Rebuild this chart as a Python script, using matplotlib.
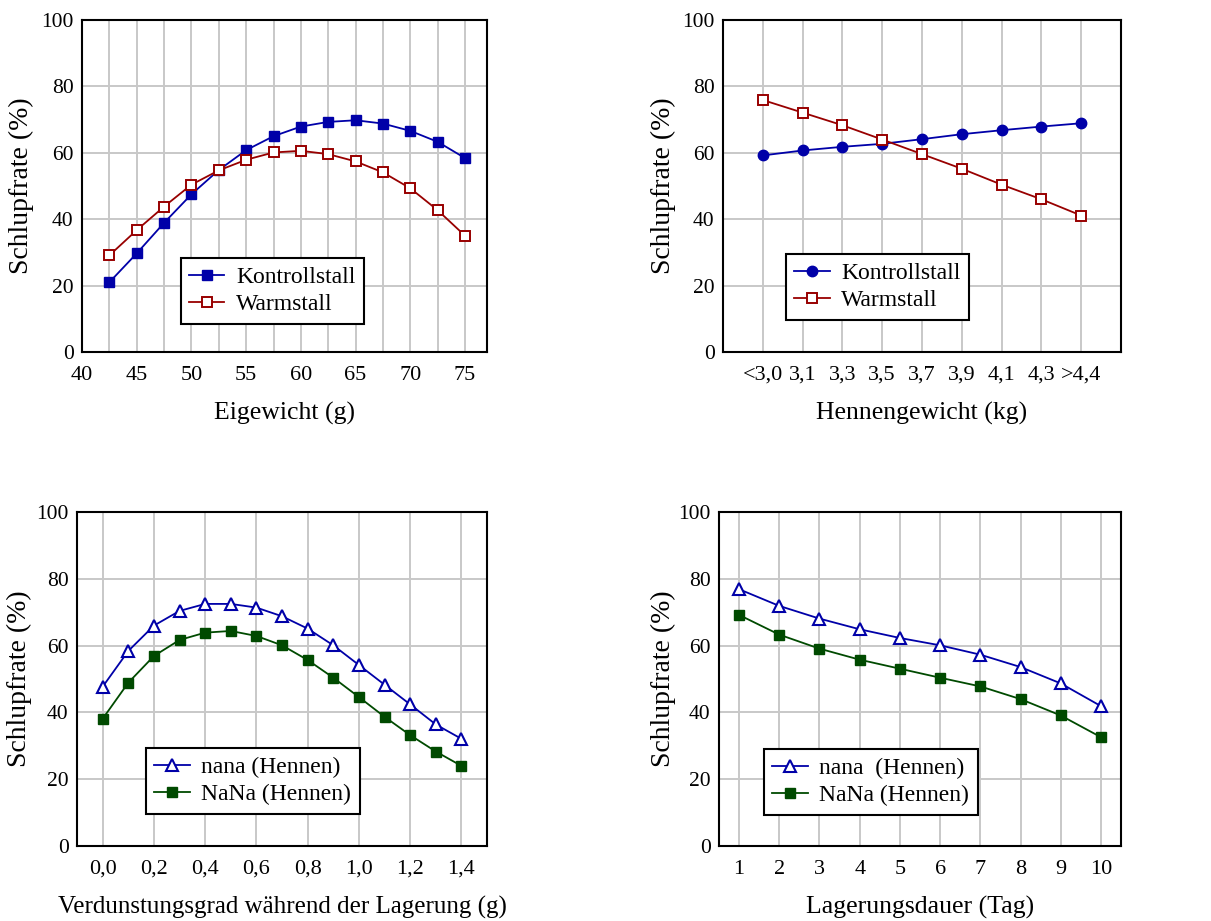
import matplotlib
matplotlib.use("Agg")
import matplotlib.pyplot as plt
from matplotlib.ticker import MultipleLocator

plt.rcParams['font.family'] = ['Liberation Serif', 'DejaVu Serif']

# Eigewicht
egg_weight = [42.5, 45, 47.5, 50, 52.5, 55, 57.5, 60, 62.5, 65, 67.5, 70, 72.5, 75]
egg_kontroll = [21.0, 29.7, 38.9, 47.5, 54.8, 60.8, 65.0, 67.9, 69.3, 69.8, 68.8, 66.6, 63.3, 58.4]
egg_warm = [29.1, 36.7, 43.8, 50.4, 54.7, 57.9, 60.1, 60.6, 59.6, 57.4, 54.1, 49.3, 42.7, 35.0]

# Hennengewicht
hen_labels = ['<3,0', '3,1', '3,3', '3,5', '3,7', '3,9', '4,1', '4,3', '>4,4']
hen_kontroll = [59.2, 60.7, 61.8, 62.7, 64.1, 65.6, 66.8, 67.9, 68.9]
hen_warm = [75.9, 72.1, 68.3, 64.0, 59.6, 55.2, 50.4, 46.0, 41.1]

# Verdunstung
evap = [0.0, 0.1, 0.2, 0.3, 0.4, 0.5, 0.6, 0.7, 0.8, 0.9, 1.0, 1.1, 1.2, 1.3, 1.4]
evap_nana = [47.7, 58.4, 66.0, 70.4, 72.5, 72.5, 71.4, 68.8, 65.1, 60.1, 54.2, 48.3, 42.4, 36.4, 32.1]
evap_NaNa = [38.1, 48.9, 56.9, 61.7, 63.9, 64.4, 62.9, 60.1, 55.7, 50.4, 44.6, 38.7, 33.2, 28.3, 24.0]

# Lagerungsdauer
days = [1, 2, 3, 4, 5, 6, 7, 8, 9, 10]
days_nana = [76.9, 71.9, 68.1, 64.9, 62.3, 60.1, 57.3, 53.6, 48.7, 41.9]
days_NaNa = [69.2, 63.3, 59.1, 55.8, 53.1, 50.4, 47.8, 44.0, 39.1, 32.6]

BLUE = '#0000a8'
RED = '#980000'
GREEN = '#004a00'

fig = plt.figure(figsize=(12.11, 9.21), dpi=100)
ax1 = fig.add_axes([0.0677, 0.6178, 0.3344, 0.3605])
ax2 = fig.add_axes([0.5970, 0.6178, 0.3287, 0.3605])
ax3 = fig.add_axes([0.0636, 0.0814, 0.3386, 0.3626])
ax4 = fig.add_axes([0.5937, 0.0814, 0.3320, 0.3626])


def style(ax, ylab_x):
    ax.set_ylim(0, 100)
    ax.yaxis.set_major_locator(MultipleLocator(20))
    ax.grid(True, which='both', color='#c8c8c8', lw=1.4)
    ax.set_axisbelow(True)
    ax.tick_params(which='both', length=0)
    ax.tick_params(axis='x', labelsize=16, pad=10)
    ax.tick_params(axis='y', labelsize=15.5, pad=6)
    for s in ax.spines.values():
        s.set_linewidth(1.5)
        s.set_color('black')
    ax.set_ylabel('Schlupfrate (%)', fontsize=20)
    # label anchor is the right edge of the rotated text
    ax.yaxis.set_label_coords(ylab_x, 0.5)


def legend(ax, x, y):
    leg = ax.legend(loc='upper left', bbox_to_anchor=(x, y), fontsize=17,
                    fancybox=False, framealpha=1, edgecolor='black',
                    handlelength=1.5, handletextpad=0.5, borderpad=0.35,
                    labelspacing=0.25, borderaxespad=0)
    leg.get_frame().set_linewidth(1.5)


# Eigewicht
ax1.plot(egg_weight, egg_kontroll, color=BLUE, lw=1.3, marker='s', ms=7,
         mfc=BLUE, mec=BLUE, label='Kontrollstall')
ax1.plot(egg_weight, egg_warm, color=RED, lw=1.3, marker='s', ms=7,
         mfc='white', mec=RED, mew=1.4, label='Warmstall')
ax1.set_xlim(40, 77)
ax1.xaxis.set_major_locator(MultipleLocator(5))
ax1.xaxis.set_minor_locator(MultipleLocator(2.5))
style(ax1, -0.118)
ax1.set_xlabel('Eigewicht (g)', fontsize=18.5, labelpad=12)
legend(ax1, 0.244, 0.283)

# Hennengewicht
xh = range(len(hen_labels))
ax2.plot(xh, hen_kontroll, color=BLUE, lw=1.3, marker='o', ms=7.5,
         mfc=BLUE, mec=BLUE, label='Kontrollstall')
ax2.plot(xh, hen_warm, color=RED, lw=1.3, marker='s', ms=7,
         mfc='white', mec=RED, mew=1.4, label='Warmstall')
ax2.set_xlim(-1, 9)
ax2.set_xticks(list(xh))
ax2.set_xticklabels(hen_labels)
style(ax2, -0.118)
ax2.set_xlabel('Hennengewicht (kg)', fontsize=18.5, labelpad=12)
legend(ax2, 0.158, 0.295)

# Verdunstung
ax3.plot(evap, evap_nana, color=BLUE, lw=1.3, marker='^', ms=8,
         mfc='white', mec=BLUE, mew=1.5, label='nana (Hennen)')
ax3.plot(evap, evap_NaNa, color=GREEN, lw=1.3, marker='s', ms=7,
         mfc=GREEN, mec=GREEN, label='NaNa (Hennen)')
ax3.set_xlim(-0.1, 1.5)
ax3.set_xticks([0.0, 0.2, 0.4, 0.6, 0.8, 1.0, 1.2, 1.4])
ax3.set_xticklabels(['0,0', '0,2', '0,4', '0,6', '0,8', '1,0', '1,2', '1,4'])
style(ax3, -0.110)
ax3.set_xlabel('Verdunstungsgrad während der Lagerung (g)', fontsize=18, labelpad=12)
legend(ax3, 0.168, 0.293)

# Lagerungsdauer
ax4.plot(days, days_nana, color=BLUE, lw=1.3, marker='^', ms=8,
         mfc='white', mec=BLUE, mew=1.5, label='nana  (Hennen)')
ax4.plot(days, days_NaNa, color=GREEN, lw=1.3, marker='s', ms=7,
         mfc=GREEN, mec=GREEN, label='NaNa (Hennen)')
ax4.set_xlim(0.5, 10.5)
ax4.set_xticks(days)
style(ax4, -0.107)
ax4.set_xlabel('Lagerungsdauer (Tag)', fontsize=18.5, labelpad=12)
legend(ax4, 0.112, 0.290)

fig.savefig('out.png', dpi=100)
